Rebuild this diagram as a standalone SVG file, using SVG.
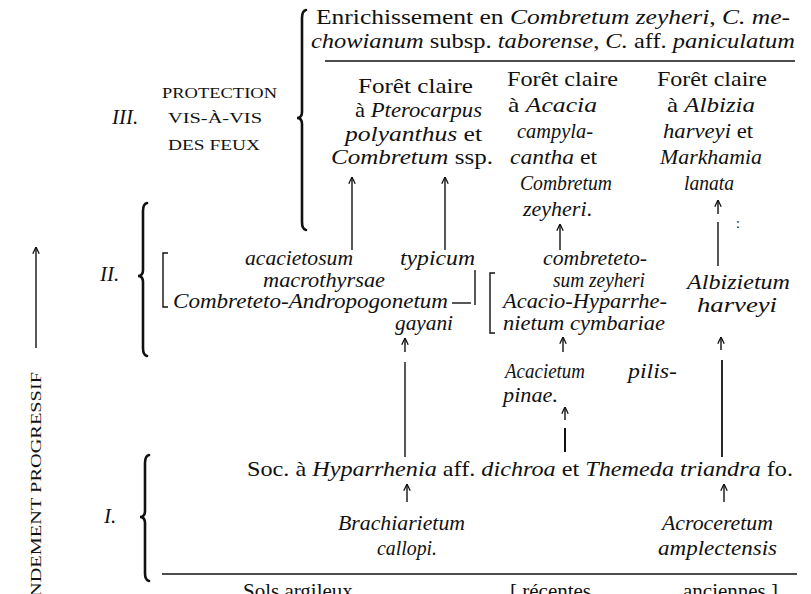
<svg xmlns="http://www.w3.org/2000/svg" width="811" height="594" viewBox="0 0 811 594">
<defs>
<style>
.t{font-family:"Liberation Serif","Times New Roman",serif;font-size:21px;fill:#111}
.i{font-style:italic}
.sc{font-size:14px}
.vt{font-size:15px}
.ln{stroke:#111;stroke-width:1.4;fill:none}
.br{stroke:#111;stroke-width:2.6;fill:none;stroke-linecap:round}
.ar{stroke:#111;stroke-width:1.4;fill:none;marker-end:url(#ah)}
</style>
<marker id="ah" viewBox="0 0 10 10" refX="9.5" refY="5" markerWidth="8" markerHeight="8" markerUnits="userSpaceOnUse" orient="auto">
<path d="M1,1 L9.5,5 L1,9" fill="none" stroke="#111" stroke-width="1.6"/>
</marker>
</defs>
<rect width="811" height="594" fill="#fff"/>

<g id="braces">
<path class="br" d="M306,10 Q302,11 302,18 L302,112 Q302,118 297,118 Q302,118 302,124 L302,222 Q302,229 306,230"/>
<path class="br" d="M147,203 Q143,204 143,211 L143,270 Q143,276 138,276 Q143,276 143,282 L143,348 Q143,355 147,356"/>
<path class="br" d="M149,455 Q145,456 145,463 L145,511 Q145,517 140,517 Q145,517 145,523 L145,573 Q145,580 149,581"/>
<path class="ln" d="M168,253 L163,253 L163,307 L168,307"/>
<path class="ln" d="M495,273 L490,273 L490,333 L495,333"/>
<line class="ln" x1="325" y1="61" x2="795" y2="61"/>
<line class="ln" x1="162" y1="574" x2="797" y2="574"/>
</g>

<g id="level-labels" class="t">
<text class="i" x="112" y="124">III.</text>
<text class="i" x="100" y="281">II.</text>
<text class="i" x="104" y="523">I.</text>
<text class="sc" x="162" y="98" textLength="115" lengthAdjust="spacingAndGlyphs">PROTECTION</text>
<text class="sc" x="168" y="123" textLength="94" lengthAdjust="spacingAndGlyphs">VIS-À-VIS</text>
<text class="sc" x="168" y="150" textLength="92" lengthAdjust="spacingAndGlyphs">DES  FEUX</text>
<text class="vt" transform="translate(41,372) rotate(-90)" text-anchor="end" textLength="225" lengthAdjust="spacingAndGlyphs">NDEMENT  PROGRESSIF</text>
</g>

<g id="enrichissement" class="t">
<text x="316" y="24" textLength="474" lengthAdjust="spacingAndGlyphs">Enrichissement en <tspan class="i">Combretum zeyheri</tspan>, <tspan class="i">C. me-</tspan></text>
<text x="311" y="48" textLength="484" lengthAdjust="spacingAndGlyphs"><tspan class="i">chowianum</tspan> subsp. <tspan class="i">taborense</tspan>, <tspan class="i">C.</tspan> aff. <tspan class="i">paniculatum</tspan></text>
</g>

<g id="foret-pterocarpus" class="t">
<text x="358" y="93" textLength="115" lengthAdjust="spacingAndGlyphs">Forêt claire</text>
<text x="355" y="117" textLength="127" lengthAdjust="spacingAndGlyphs">à <tspan class="i">Pterocarpus</tspan></text>
<text x="345" y="141" textLength="137" lengthAdjust="spacingAndGlyphs"><tspan class="i">polyanthus</tspan> et</text>
<text x="331" y="164" textLength="162" lengthAdjust="spacingAndGlyphs"><tspan class="i">Combretum</tspan>  ssp.</text>
</g>

<g id="foret-acacia" class="t">
<text x="507" y="86" textLength="111" lengthAdjust="spacingAndGlyphs">Forêt claire</text>
<text x="508" y="112" textLength="89" lengthAdjust="spacingAndGlyphs">à <tspan class="i">Acacia</tspan></text>
<text class="i" x="517" y="138" textLength="76" lengthAdjust="spacingAndGlyphs">campyla-</text>
<text x="510" y="164" textLength="87" lengthAdjust="spacingAndGlyphs"><tspan class="i">cantha</tspan> et</text>
<text class="i" x="520" y="190" textLength="92" lengthAdjust="spacingAndGlyphs">Combretum</text>
<text x="523" y="216" textLength="69" lengthAdjust="spacingAndGlyphs"><tspan class="i">zeyheri</tspan>.</text>
</g>

<g id="foret-albizia" class="t">
<text x="657" y="86" textLength="110" lengthAdjust="spacingAndGlyphs">Forêt claire</text>
<text x="667" y="112" textLength="88" lengthAdjust="spacingAndGlyphs">à <tspan class="i">Albizia</tspan></text>
<text x="663" y="138" textLength="90" lengthAdjust="spacingAndGlyphs"><tspan class="i">harveyi</tspan> et</text>
<text class="i" x="660" y="164" textLength="102" lengthAdjust="spacingAndGlyphs">Markhamia</text>
<text class="i" x="684" y="190" textLength="50" lengthAdjust="spacingAndGlyphs">lanata</text>
<text x="736" y="228" style="font-size:14px">:</text>
</g>

<g id="combreteto-andropogonetum" class="t i">
<text x="245" y="265" textLength="108" lengthAdjust="spacingAndGlyphs">acacietosum</text>
<text x="400" y="265" textLength="75" lengthAdjust="spacingAndGlyphs">typicum</text>
<text x="263" y="287" textLength="122" lengthAdjust="spacingAndGlyphs">macrothyrsae</text>
<text x="173" y="308" textLength="275" lengthAdjust="spacingAndGlyphs">Combreteto-Andropogonetum</text>
<text x="395" y="330" textLength="58" lengthAdjust="spacingAndGlyphs">gayani</text>
</g>

<g id="acacio-hyparrhenietum" class="t i">
<text x="543" y="265" textLength="104" lengthAdjust="spacingAndGlyphs">combreteto-</text>
<text x="553" y="287" textLength="92" lengthAdjust="spacingAndGlyphs">sum  zeyheri</text>
<text x="503" y="308" textLength="164" lengthAdjust="spacingAndGlyphs">Acacio-Hyparrhe-</text>
<text x="503" y="330" textLength="162" lengthAdjust="spacingAndGlyphs">nietum  cymbariae</text>
</g>

<g id="albizietum" class="t i">
<text x="687" y="289" textLength="103" lengthAdjust="spacingAndGlyphs">Albizietum</text>
<text x="697" y="312" textLength="80" lengthAdjust="spacingAndGlyphs">harveyi</text>
</g>

<g id="acacietum" class="t i">
<text x="505" y="378" textLength="80" lengthAdjust="spacingAndGlyphs">Acacietum</text>
<text x="628" y="378" textLength="49" lengthAdjust="spacingAndGlyphs">pilis-</text>
<text x="503" y="402" textLength="55" lengthAdjust="spacingAndGlyphs">pinae.</text>
</g>

<g id="soc-hyparrhenia" class="t">
<text x="247" y="476" textLength="546" lengthAdjust="spacingAndGlyphs">Soc. à <tspan class="i">Hyparrhenia</tspan> aff.  <tspan class="i">dichroa</tspan> et <tspan class="i">Themeda triandra</tspan> fo.</text>
</g>

<g id="brachiarietum" class="t i">
<text x="338" y="530" textLength="127" lengthAdjust="spacingAndGlyphs">Brachiarietum</text>
<text x="377" y="555" textLength="60" lengthAdjust="spacingAndGlyphs">callopi.</text>
</g>

<g id="acroceretum" class="t i">
<text x="662" y="530" textLength="111" lengthAdjust="spacingAndGlyphs">Acroceretum</text>
<text x="658" y="555" textLength="119" lengthAdjust="spacingAndGlyphs">amplectensis</text>
</g>

<g id="soils" class="t">
<text x="243" y="598">Sols argileux</text>
<text x="510" y="598">[ récentes</text>
<text x="683" y="598">anciennes ]</text>
</g>

<g id="connectors">
<line class="ar" x1="36" y1="348" x2="36" y2="247"/>
<line class="ar" x1="352" y1="250" x2="352" y2="177"/>
<line class="ar" x1="445" y1="250" x2="445" y2="177"/>
<line class="ar" x1="560" y1="250" x2="560" y2="224"/>
<line class="ar" x1="718" y1="214" x2="718" y2="200"/>
<line class="ln" x1="718" y1="222" x2="718" y2="266"/>
<line class="ln" x1="452" y1="303" x2="471" y2="303"/>
<line class="ln" x1="475" y1="270" x2="475" y2="305"/>
<line class="ar" x1="405" y1="352" x2="405" y2="338"/>
<line class="ln" x1="405" y1="362" x2="405" y2="457"/>
<line class="ar" x1="563" y1="352" x2="563" y2="337"/>
<line class="ar" x1="565" y1="420" x2="565" y2="407"/>
<line class="ln" x1="565" y1="428" x2="565" y2="452" style="stroke-width:2"/>
<line class="ar" x1="721" y1="350" x2="721" y2="337"/>
<line class="ln" x1="722" y1="360" x2="722" y2="457" style="stroke-width:1.8"/>
<line class="ar" x1="407" y1="502" x2="407" y2="484"/>
<line class="ar" x1="724" y1="502" x2="724" y2="484"/>
</g>
</svg>
